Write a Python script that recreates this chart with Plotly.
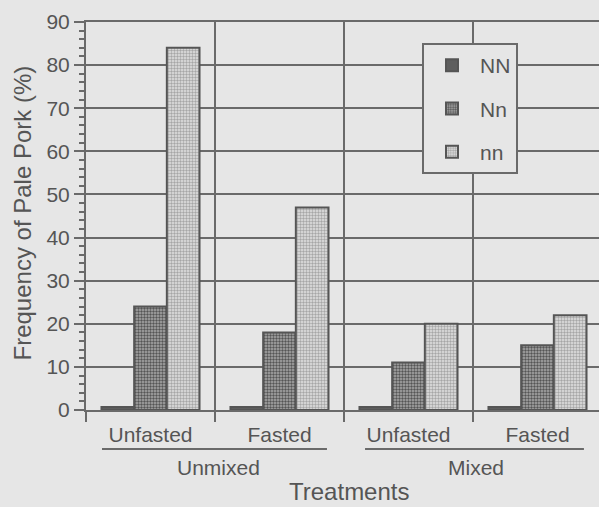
import plotly.graph_objects as go

# ---- data ----
positions = [0, 1, 2, 3]
treatment_labels = ["Unfasted", "Fasted", "Unfasted", "Fasted"]
group_labels = ["Unmixed", "Mixed"]
group_centers = [0.5, 2.5]
genotypes = ["NN", "Nn", "nn"]
nn_upper = [0.7, 0.7, 0.7, 0.7]       # NN
nn_het = [24, 18, 11, 15]             # Nn
nn_lower = [84, 47, 20, 22]           # nn
y_ticks = [0, 10, 20, 30, 40, 50, 60, 70, 80, 90]

BG = "#e6e6e6"
LINE = "#6a6a6a"
TXT = "#555555"

series = [nn_upper, nn_het, nn_lower]
styles = [
    dict(color="#5e5e5e", line=dict(color="#555555", width=2)),
    dict(color="#a0a0a0", line=dict(color="#555555", width=2),
         pattern=dict(shape=".", size=3, solidity=0.5, fgcolor="#555555", bgcolor="#ababab", fillmode="replace")),
    dict(color="#d6d6d6", line=dict(color="#555555", width=2),
         pattern=dict(shape=".", size=3, solidity=0.5, fgcolor="#a6a6a6", bgcolor="#e2e2e2", fillmode="replace")),
]

fig = go.Figure()
for name, vals, st in zip(genotypes, series, styles):
    fig.add_trace(go.Bar(x=positions, y=vals, name=name, marker=st, legendgroup=name))

W, H = 599, 507
ml, mr, mt, mb = 86, 0, 22, 97
plot_w = W - ml - mr
plot_h = H - mt - mb
xmax = 3.5 - (602 - 599) / 129.0

fig.update_layout(
    width=W, height=H,
    margin=dict(l=ml, r=mr, t=mt, b=mb, pad=0),
    paper_bgcolor=BG, plot_bgcolor=BG,
    barmode="group", bargap=0.24, bargroupgap=0,
    font=dict(family="Liberation Sans, Arial, sans-serif", size=21, color=TXT),
    showlegend=True,
    legend=dict(
        x=(422 - ml) / plot_w, y=(H - mb - 43) / plot_h, xanchor="left", yanchor="top",
        bgcolor=BG, bordercolor=LINE, borderwidth=2,
        font=dict(size=21, color=TXT), itemwidth=46, tracegroupgap=13,
        traceorder="grouped",
    ),
    xaxis=dict(
        range=[-0.5, xmax], tickmode="array", tickvals=positions, ticktext=treatment_labels,
        ticks="", showgrid=False, zeroline=False, showline=True, mirror=True,
        linecolor=LINE, linewidth=2, ticklabelstandoff=5,
        tickfont=dict(size=21, color=TXT),
        minor=dict(tickmode="array", tickvals=[-0.5, 0.5, 1.5, 2.5], ticks="outside",
                   ticklen=10, tickwidth=2, tickcolor=LINE, showgrid=True,
                   gridcolor=LINE, gridwidth=1.5),
    ),
    yaxis=dict(
        range=[0, 90], tickmode="array", tickvals=y_ticks, ticks="outside", ticklen=10,
        tickwidth=2, tickcolor=LINE, showgrid=True, gridcolor=LINE, gridwidth=1.5,
        zeroline=False, showline=True, linecolor=LINE, linewidth=2,
        tickfont=dict(size=21, color=TXT),
        minor=dict(dtick=2, ticks="outside", ticklen=5, tickwidth=1.5, tickcolor=LINE, showgrid=False),
    ),
)

# group labels and underlines
underlines = [(-0.376, 1.368), (1.663, 3.36)]
for lab, cx, (x0, x1) in zip(group_labels, group_centers, underlines):
    fig.add_shape(type="line", xref="x", yref="paper", x0=x0, x1=x1,
                  y0=(H - mb - 449) / plot_h, y1=(H - mb - 449) / plot_h,
                  line=dict(color=LINE, width=2))
    fig.add_annotation(text=lab, xref="x", yref="paper", x=cx, xshift=3,
                       y=(H - mb - 468) / plot_h, yanchor="middle", showarrow=False,
                       font=dict(size=21, color=TXT))

fig.add_annotation(text="Treatments", xref="paper", yref="paper",
                   x=(349 - ml) / plot_w, y=(H - mb - 492) / plot_h,
                   xanchor="center", yanchor="middle", showarrow=False,
                   font=dict(size=24, color=TXT))
fig.add_annotation(text="Frequency of Pale Pork (%)", xref="paper", yref="paper",
                   x=(22 - ml) / plot_w, y=(H - mb - 213.5) / plot_h, textangle=-90,
                   xanchor="center", yanchor="middle", showarrow=False,
                   font=dict(size=24, color=TXT))

fig.write_html("out.html", config={"displayModeBar": False},
               post_script="document.body.style.margin='0';document.body.style.overflow='hidden';")
